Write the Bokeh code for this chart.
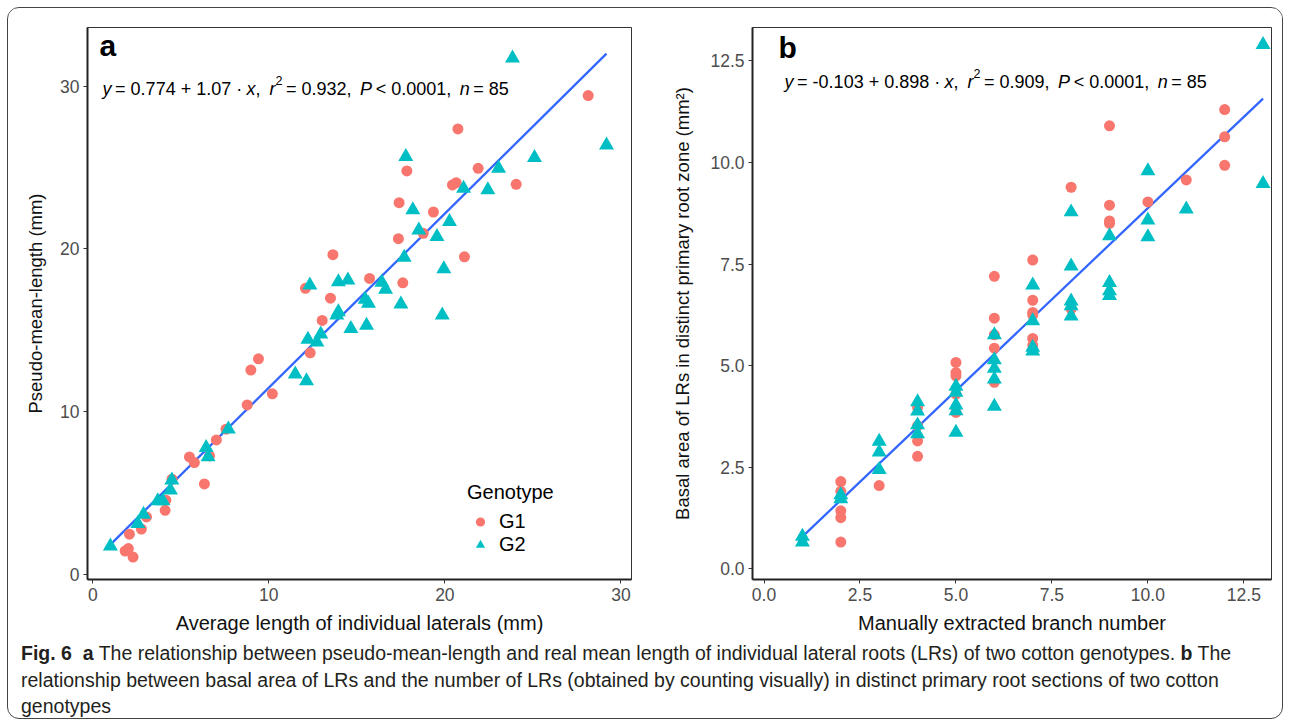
import numpy as np
from bokeh.plotting import figure
from bokeh.models import (Label, Legend, LegendItem, FixedTicker, PrintfTickFormatter,
                          Div, Range1d)
from bokeh.layouts import row, column
from bokeh.embed import file_html
from bokeh.resources import INLINE

# ---------------- data ----------------
a_g1_x = [1.84, 2.02, 2.29, 2.08, 2.76, 3.05, 4.11, 4.15, 4.50, 6.34, 5.49, 5.77, 6.63,
          7.02, 7.57, 8.77, 8.98, 9.41, 10.2, 12.35, 13.03, 13.5, 12.08, 13.64, 15.72,
          17.61, 17.36, 18.77, 21.11, 17.4, 19.35, 20.43, 20.64, 17.84, 21.89, 24.05,
          20.74, 28.14]
a_g1_y = [1.45, 1.60, 1.08, 2.48, 2.80, 3.54, 3.95, 4.57, 5.86, 5.57, 7.23, 6.88, 7.29,
          8.27, 8.93, 10.42, 12.56, 13.25, 11.1, 13.62, 15.61, 16.98, 17.58, 19.65, 18.19,
          17.92, 20.63, 20.96, 19.52, 22.84, 22.27, 23.93, 24.07, 24.79, 24.95, 23.97,
          27.37, 29.42]
a_g2_x = [1.0, 2.56, 2.88, 3.69, 3.98, 4.41, 4.49, 6.44, 6.55, 7.7, 11.5, 12.14, 12.22,
          12.73, 12.95, 12.33, 13.95, 14.49, 13.86, 13.95, 14.66, 15.55, 15.47, 15.66,
          16.42, 16.63, 17.5, 17.69, 17.78, 18.18, 18.52, 19.55, 19.94, 19.85, 20.26,
          21.06, 22.44, 23.05, 23.84, 25.09, 29.18]
a_g2_y = [1.74, 3.13, 3.69, 4.52, 4.52, 5.18, 5.80, 7.80, 7.23, 8.93, 12.31, 11.9, 14.44,
          14.28, 14.77, 17.78, 17.98, 18.09, 15.94, 16.14, 15.1, 15.3, 16.9, 16.66,
          17.95, 17.52, 16.61, 19.48, 25.67, 22.39, 21.16, 20.75, 18.78, 15.94, 21.67,
          23.72, 23.62, 24.95, 31.71, 25.6, 26.37]

b_g1_x = [2, 2, 2, 2, 2, 3, 4, 4, 4, 4, 5, 5, 5, 5, 5, 6, 6, 6, 6, 6,
          7, 7, 7, 7, 7, 7, 8, 8, 9, 9, 9, 9, 10, 11, 12, 12, 12]
b_g1_y = [2.15, 1.91, 1.43, 1.26, 0.66, 2.05, 3.97, 3.52, 3.15, 2.77,
          5.08, 4.83, 4.75, 4.30, 3.85, 7.20, 6.17, 5.76, 5.43, 4.59,
          7.60, 6.61, 6.31, 6.25, 5.67, 5.50, 9.39, 6.40, 10.9, 8.95, 8.56, 8.50,
          9.03, 9.57, 11.3, 10.63, 9.93]
b_g2_x = [1, 1, 2, 2, 3, 3, 3, 4, 4, 4, 4, 5, 5, 5, 5, 5, 6, 6, 6, 6, 6,
          7, 7, 7, 7, 8, 8, 8, 8, 8, 9, 9, 9, 9, 10, 10, 10, 11, 13, 13]
b_g2_y = [0.80, 0.66, 1.82, 1.72, 3.14, 2.87, 2.44, 4.11, 3.88, 3.54, 3.32,
          4.49, 4.34, 4.03, 3.89, 3.36, 5.76, 5.14, 4.93, 4.67, 4.00,
          6.98, 6.10, 5.45, 5.36, 8.78, 7.45, 6.59, 6.47, 6.22,
          8.19, 7.04, 6.84, 6.72, 9.79, 8.58, 8.17, 8.85, 12.9, 9.48]

a_fit = [0.774, 1.07]     # intercept, slope
b_fit = [-0.103, 0.898]

a_xticks = [0, 10, 20, 30]
a_yticks = [0, 10, 20, 30]
b_xticks = [0, 2.5, 5, 7.5, 10, 12.5]
b_yticks = [0, 2.5, 5, 7.5, 10, 12.5]

a_eq = [("y", "i"), ("= 0.774 + 1.07 · ", "n"), ("x", "i"), (",  ", "n"), ("r", "i"),
        ("2", "s"), ("= 0.932,  ", "n"), ("P", "i"), ("< 0.0001,  ", "n"), ("n", "i"),
        ("= 85", "n")]
b_eq = [("y", "i"), ("= -0.103 + 0.898 · ", "n"), ("x", "i"), (",  ", "n"), ("r", "i"),
        ("2", "s"), ("= 0.909,  ", "n"), ("P", "i"), ("< 0.0001,  ", "n"), ("n", "i"),
        ("= 85", "n")]

G1_COL = "#F8766D"
G2_COL = "#00BFC4"
LINE_COL = "#3366FF"
FONT = "Liberation Sans"

# Arial-like advance widths (em) for laying out the mixed-style equation
W = {c: 0.556 for c in "0123456789"}
W.update({".": 0.278, ",": 0.278, " ": 0.25, "=": 0.584, "+": 0.584, "<": 0.584,
          "-": 0.333, "·": 0.278, "y": 0.5, "x": 0.5, "r": 0.333, "P": 0.667, "n": 0.556})
GAP_AFTER = {"y": 0.2, "x": 0.0, "r": 0.0, "2": 0.2, "P": 0.2, "n": 0.2}
GAP_BEFORE = {"x": 0.15}


def add_equation(p, segs, x0, y0, size):
    x = x0
    for txt, kind in segs:
        fs = size * 0.7 if kind == "s" else size
        yy = y0 + size * 0.42 if kind == "s" else y0
        if kind == "i":
            x += GAP_BEFORE.get(txt, 0.0) * size
        p.add_layout(Label(x=x, y=yy, x_units="screen", y_units="screen", text=txt,
                           text_font=FONT, text_font_size=f"{fs:.1f}px",
                           text_font_style="italic" if kind == "i" else "normal",
                           text_color="black", text_baseline="alphabetic"))
        x += sum(W.get(c, 0.55) for c in txt) * fs
        if kind in ("i", "s"):
            x += GAP_AFTER.get(txt, 0.0) * size


def style(p, xt, yt, fmt=None, ystand=14):
    p.xaxis.ticker = FixedTicker(ticks=xt)
    p.yaxis.ticker = FixedTicker(ticks=yt)
    if fmt:
        p.xaxis.formatter = PrintfTickFormatter(format=fmt)
        p.yaxis.formatter = PrintfTickFormatter(format=fmt)
    p.xgrid.visible = False
    p.ygrid.visible = False
    p.outline_line_color = "#333333"
    p.outline_line_width = 1
    for ax in (p.xaxis[0], p.yaxis[0]):
        ax.axis_line_color = "#222222"
        ax.axis_line_width = 2
        ax.major_tick_line_color = "#333333"
        ax.major_tick_out = 4
        ax.major_tick_in = 0
        ax.minor_tick_line_color = None
        ax.major_label_text_font = FONT
        ax.major_label_text_font_size = "17.5px"
        ax.major_label_text_color = "#4D4D4D"
        ax.axis_label_text_font = FONT
        ax.axis_label_text_font_style = "normal"
        ax.axis_label_text_color = "#111111"
        ax.major_label_standoff = 4
    p.xaxis.axis_label_text_font_size = "20px"
    p.yaxis.axis_label_text_font_size = "18.5px"
    p.xaxis.axis_label_standoff = 8
    p.yaxis.axis_label_standoff = ystand


# ---------------- panel a ----------------
p1 = figure(width=651, height=631, output_backend="svg", toolbar_location=None,
            x_range=Range1d(-0.3, 30.6), y_range=Range1d(-0.3, 33.6),
            min_border_left=79, min_border_right=28, min_border_top=19, min_border_bottom=60,
            x_axis_label="Average length of individual laterals (mm)",
            y_axis_label="Pseudo-mean-length (mm)")
style(p1, a_xticks, a_yticks, ystand=11)
ax_all = np.array(a_g1_x + a_g2_x)
lx = np.array([ax_all.min(), ax_all.max()])
p1.line(lx, a_fit[0] + a_fit[1] * lx, line_color=LINE_COL, line_width=2.3)
r1 = p1.scatter(a_g1_x, a_g1_y, marker="circle", size=11, fill_color=G1_COL, line_color=None)
r2 = p1.scatter(a_g2_x, a_g2_y, marker="triangle", size=15, fill_color=G2_COL, line_color=None)
p1.add_layout(Label(x=12, y=534, x_units="screen", y_units="screen", text="a",
                    text_font=FONT, text_font_size="30px", text_font_style="bold",
                    text_color="black", text_baseline="alphabetic"))
add_equation(p1, a_eq, 15, 491, 18)
leg = Legend(items=[LegendItem(label="G1", renderers=[r1]),
                    LegendItem(label="G2", renderers=[r2])],
             location=(380, 23), title="Genotype")
leg.title_text_font = FONT
leg.title_text_font_size = "20px"
leg.title_text_font_style = "normal"
leg.title_text_color = "black"
leg.title_standoff = 6
leg.label_text_font = FONT
leg.label_text_font_size = "20px"
leg.label_text_color = "black"
leg.background_fill_alpha = 0
leg.border_line_color = None
leg.padding = 0
leg.margin = 0
leg.spacing = 0
leg.glyph_width = 26
leg.glyph_height = 23
leg.label_height = 23
leg.label_standoff = 6
p1.add_layout(leg)

# ---------------- panel b ----------------
p2 = figure(width=623, height=631, output_backend="svg", toolbar_location=None,
            x_range=Range1d(-0.3, 13.22), y_range=Range1d(-0.26, 13.32),
            min_border_left=93, min_border_right=11, min_border_top=19, min_border_bottom=60,
            x_axis_label="Manually extracted branch number",
            y_axis_label="Basal area of LRs in distinct primary root zone (mm²)")
style(p2, b_xticks, b_yticks, "%.1f", ystand=14)
bx_all = np.array(b_g1_x + b_g2_x, dtype=float)
lx2 = np.array([bx_all.min(), bx_all.max()])
p2.line(lx2, b_fit[0] + b_fit[1] * lx2, line_color=LINE_COL, line_width=2.3)
p2.scatter(b_g1_x, b_g1_y, marker="circle", size=11, fill_color=G1_COL, line_color=None)
p2.scatter(b_g2_x, b_g2_y, marker="triangle", size=15, fill_color=G2_COL, line_color=None)
p2.add_layout(Label(x=26, y=532, x_units="screen", y_units="screen", text="b",
                    text_font=FONT, text_font_size="30px", text_font_style="bold",
                    text_color="black", text_baseline="alphabetic"))
add_equation(p2, b_eq, 32, 498, 18)

# ---------------- caption ----------------
caption_html = (
    '<div style="font-family:\'Liberation Sans Narrow\',\'Arial Narrow\',sans-serif;'
    'font-size:19.5px;line-height:26.5px;color:#231F20;white-space:nowrap;'
    'padding-left:13px;padding-top:1px;">'
    '<b>Fig. 6</b>&nbsp; <b>a</b> The relationship between pseudo-mean-length and real mean '
    'length of individual lateral roots (LRs) of two cotton genotypes. <b>b</b> The<br>'
    'relationship between basal area of LRs and the number of LRs (obtained by counting '
    'visually) in distinct primary root sections of two cotton<br>genotypes</div>'
)
cap = Div(text=caption_html, width=1274, height=79, margin=0,
          styles={"overflow": "hidden"})

layout = column(row(p1, p2), cap, margin=(7, 0, 0, 7),
                styles={"border": "1px solid #444", "border-radius": "12px",
                        "overflow": "hidden"})

with open("out.html", "w") as f:
    f.write(file_html(layout, INLINE))
